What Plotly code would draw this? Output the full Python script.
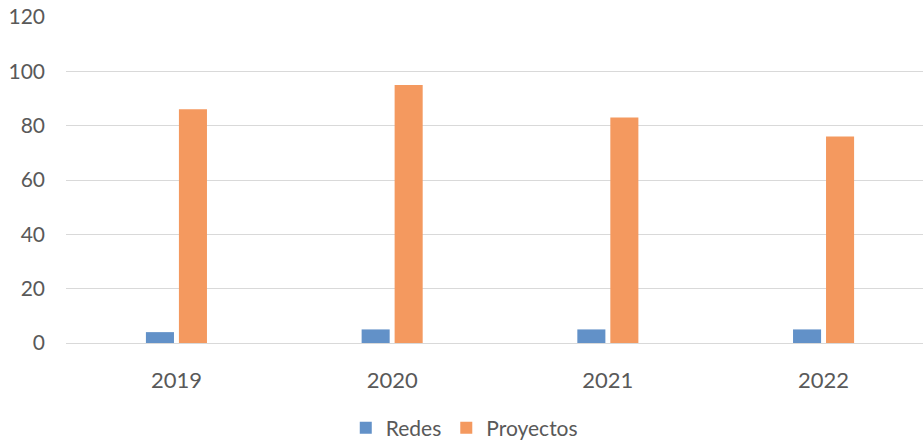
import plotly.graph_objects as go

years = ["2019", "2020", "2021", "2022"]
redes = [4, 5, 5, 5]
proyectos = [86, 95, 83, 76]

text_color = "#595959"
font_family = "Lato, 'Open Sans', sans-serif"

fig = go.Figure()
fig.add_trace(go.Bar(x=years, y=redes, name="Redes", marker=dict(color="#6291C8", line=dict(width=0))))
fig.add_trace(go.Bar(x=years, y=proyectos, name="Proyectos", marker=dict(color="#F4995F", line=dict(width=0))))

fig.update_layout(
    width=923,
    height=444,
    margin=dict(l=66, r=0, t=17, b=101),
    paper_bgcolor="white",
    plot_bgcolor="white",
    barmode="group",
    bargap=0.694,
    bargroupgap=0.15,
    font=dict(family=font_family, size=21, color=text_color),
    showlegend=True,
    legend=dict(
        orientation="h",
        xref="container",
        yref="container",
        x=0.503,
        xanchor="center",
        y=0.036,
        yanchor="middle",
        font=dict(size=21, color=text_color),
        itemwidth=30,
        traceorder="normal",
    ),
    xaxis=dict(
        type="category",
        range=[-0.512, 3.461],
        showgrid=False,
        showline=False,
        zeroline=False,
        ticks="",
        ticklabelstandoff=22,
        tickfont=dict(size=22, color=text_color),
    ),
    yaxis=dict(
        range=[0, 120],
        tickvals=[0, 20, 40, 60, 80, 100, 120],
        showgrid=True,
        gridcolor="#D9D9D9",
        gridwidth=1.3,
        zeroline=True,
        zerolinecolor="#D9D9D9",
        zerolinewidth=1.3,
        showline=False,
        ticks="",
        ticklabelstandoff=20,
        tickfont=dict(size=21, color=text_color),
    ),
)

fig.write_html("out.html")
